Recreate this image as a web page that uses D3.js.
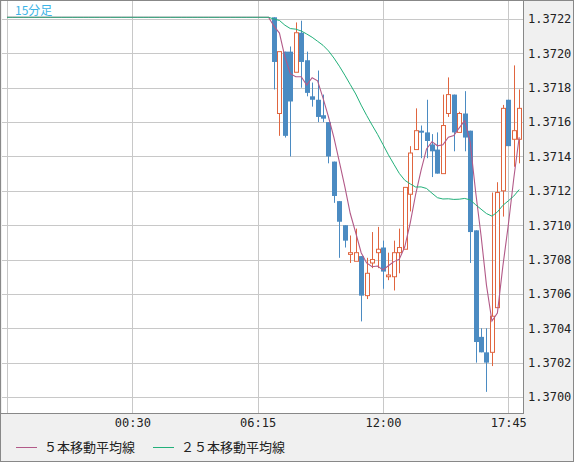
<!DOCTYPE html>
<html>
<head>
<meta charset="utf-8">
<script src="https://cdn.jsdelivr.net/npm/d3@7"></script>
<style>
  body { margin: 0; background: #f0f0f0; }
  svg { display: block; }
</style>
</head>
<body>
<div id="chart"></div>
<script>
// 15 minute bars; index 0 = 18:45 of previous day, candles start at index 49
var firstIndex = 49;
var flatLevel = 1.37221;   // level before the first candle (MA lines flat)

var opens  = [1.37221,1.37165,1.37201,1.37201,1.37189,1.37212,1.37196,1.37175,1.37173,1.37164,
              1.37160,1.37137,1.37114,1.37100,1.37083,1.37079,1.37082,1.37059,1.37078,1.37084,
              1.37087,1.37070,1.37070,1.37084,1.37086,1.37118,1.37144,1.37155,1.37154,1.37147,
              1.37144,1.37130,1.37165,1.37176,1.37154,1.37165,1.37155,1.37097,1.37035,1.37026,
              1.37026,1.37052,1.37120,1.37173,1.37150,1.37150];
var highs  = [1.37221,1.37201,1.37201,1.37204,1.37218,1.37219,1.37201,1.37183,1.37190,1.37176,
              1.37160,1.37137,1.37114,1.37100,1.37094,1.37098,1.37082,1.37081,1.37096,1.37099,
              1.37091,1.37084,1.37091,1.37098,1.37122,1.37146,1.37168,1.37158,1.37173,1.37153,
              1.37154,1.37176,1.37186,1.37176,1.37166,1.37178,1.37155,1.37097,1.37040,1.37040,
              1.37119,1.37125,1.37170,1.37173,1.37193,1.37179];
var lows   = [1.37179,1.37152,1.37151,1.37140,1.37189,1.37180,1.37175,1.37169,1.37160,1.37160,
              1.37136,1.37113,1.37081,1.37087,1.37078,1.37079,1.37044,1.37057,1.37075,1.37075,
              1.37063,1.37068,1.37062,1.37072,1.37086,1.37108,1.37144,1.37139,1.37139,1.37128,
              1.37130,1.37130,1.37163,1.37143,1.37154,1.37143,1.37078,1.37020,1.37026,1.37003,
              1.37018,1.37052,1.37105,1.37146,1.37134,1.37136];
var closes = [1.37195,1.37201,1.37152,1.37172,1.37212,1.37195,1.37177,1.37173,1.37163,1.37162,
              1.37140,1.37117,1.37102,1.37091,1.37084,1.37084,1.37059,1.37072,1.37080,1.37086,
              1.37073,1.37071,1.37084,1.37087,1.37122,1.37142,1.37155,1.37154,1.37149,1.37143,
              1.37130,1.37158,1.37176,1.37154,1.37165,1.37151,1.37096,1.37032,1.37026,1.37020,
              1.37047,1.37119,1.37168,1.37146,1.37155,1.37168];

var yTicks = [1.3700,1.3702,1.3704,1.3706,1.3708,1.3710,1.3712,1.3714,1.3716,1.3718,1.3720,1.3722];
var xTickIndex = [0, 23, 46, 69, 92];
var xTickLabels = ["", "00:30", "06:15", "12:00", "17:45"];

var W = 574, H = 462;
var plot = {left: 2, right: 523, top: 1, bottom: 413};

var svg = d3.select("#chart").append("svg").attr("width", W).attr("height", H);

svg.append("rect").attr("width", W).attr("height", H).attr("fill", "#f0f0f0");
svg.append("rect")
  .attr("x", plot.left).attr("y", plot.top)
  .attr("width", plot.right - plot.left).attr("height", plot.bottom - plot.top)
  .attr("fill", "#fff");

var x = d3.scaleLinear().domain([0, 94.7]).range([7, 523]);
var y = d3.scaleLinear().domain([1.3700, 1.3722]).range([397, 19]);

// grid
svg.selectAll(".hg").data(yTicks).enter().append("line")
  .attr("x1", plot.left).attr("x2", plot.right)
  .attr("y1", function(d) { return Math.round(y(d)) + 0.5; })
  .attr("y2", function(d) { return Math.round(y(d)) + 0.5; })
  .attr("stroke", "#c8c8c8");
svg.selectAll(".vg").data(xTickIndex).enter().append("line")
  .attr("x1", function(d) { return Math.round(x(d)) + 0.5; })
  .attr("x2", function(d) { return Math.round(x(d)) + 0.5; })
  .attr("y1", plot.top).attr("y2", plot.bottom)
  .attr("stroke", "#c8c8c8");

// axes labels
var yAxis = d3.axisRight(y).tickValues(yTicks).tickSize(0).tickPadding(5)
  .tickFormat(d3.format(".4f"));
svg.append("g").attr("transform", "translate(" + plot.right + ",0)")
  .call(yAxis)
  .call(function(g) { g.select(".domain").remove(); })
  .selectAll("text")
    .attr("font-family", "DejaVu Sans Mono").attr("font-size", 12).attr("fill", "#222");

var xAxis = d3.axisBottom(x).tickValues(xTickIndex).tickSize(0).tickPadding(5)
  .tickFormat(function(d, i) { return xTickLabels[i]; });
svg.append("g").attr("transform", "translate(0," + plot.bottom + ")")
  .call(xAxis)
  .call(function(g) { g.select(".domain").remove(); })
  .selectAll("text")
    .attr("font-family", "DejaVu Sans Mono").attr("font-size", 12).attr("fill", "#222");

// moving averages
var fullCloses = [];
for (var i = 0; i < firstIndex; i++) fullCloses.push(flatLevel);
fullCloses = fullCloses.concat(closes);
function ma(n) {
  return fullCloses.map(function(c, i) {
    var s = fullCloses.slice(Math.max(0, i - n + 1), i + 1);
    return {i: i, v: d3.mean(s)};
  });
}
var line = d3.line().x(function(d) { return x(d.i); }).y(function(d) { return y(d.v); });

var candles = closes.map(function(c, k) {
  return {i: firstIndex + k, o: opens[k], h: highs[k], l: lows[k], c: c};
});

var g = svg.append("g");
var bw = 4;
candles.forEach(function(d) {
  var up = d.c >= d.o;
  var col = up ? "#e0653f" : "#4b8bc2";
  var cx = Math.round(x(d.i)) + 0.5;
  var yt = y(Math.max(d.o, d.c)), yb = y(Math.min(d.o, d.c));
  if (up) {
    if (y(d.h) < yt) g.append("line").attr("x1", cx).attr("x2", cx).attr("y1", y(d.h)).attr("y2", yt).attr("stroke", col);
    if (y(d.l) > yb) g.append("line").attr("x1", cx).attr("x2", cx).attr("y1", yb).attr("y2", y(d.l)).attr("stroke", col);
    g.append("rect").attr("x", cx - bw / 2).attr("y", yt)
      .attr("width", bw).attr("height", Math.max(1, yb - yt))
      .attr("fill", "#fff").attr("stroke", col);
  } else {
    g.append("line").attr("x1", cx).attr("x2", cx).attr("y1", y(d.h)).attr("y2", y(d.l)).attr("stroke", col);
    g.append("rect").attr("x", cx - bw / 2 - 0.5).attr("y", yt)
      .attr("width", bw + 1).attr("height", Math.max(2, yb - yt))
      .attr("fill", col);
  }
});

svg.append("path").datum(ma(5)).attr("d", line)
  .attr("fill", "none").attr("stroke", "#b25a88").attr("stroke-width", 1.1);
svg.append("path").datum(ma(25)).attr("d", line)
  .attr("fill", "none").attr("stroke", "#22b07a").attr("stroke-width", 1);

// borders
svg.append("line").attr("x1", 0).attr("x2", plot.right).attr("y1", 0.5).attr("y2", 0.5).attr("stroke", "#666");
svg.append("line").attr("x1", 0.5).attr("x2", 0.5).attr("y1", 0).attr("y2", H).attr("stroke", "#666");
svg.append("line").attr("x1", plot.right + 0.5).attr("x2", plot.right + 0.5).attr("y1", 0).attr("y2", plot.bottom).attr("stroke", "#888");
svg.append("line").attr("x1", 0).attr("x2", plot.right + 1).attr("y1", plot.bottom + 0.5).attr("y2", plot.bottom + 0.5).attr("stroke", "#888");
svg.append("rect").attr("x", 0.5).attr("y", 0.5).attr("width", W - 1).attr("height", H - 1)
  .attr("fill", "none").attr("stroke", "#888");

svg.append("text").attr("x", 15).attr("y", 15).text("15分足")
  .attr("font-family", "Noto Sans CJK JP").attr("font-size", 12).attr("fill", "#3cb4e6");

// legend
var legend = [{t: "５本移動平均線", c: "#b25a88", x: 16}, {t: "２５本移動平均線", c: "#22b07a", x: 153}];
legend.forEach(function(d) {
  svg.append("line").attr("x1", d.x).attr("x2", d.x + 21).attr("y1", 447.5).attr("y2", 447.5).attr("stroke", d.c);
  svg.append("text").attr("x", d.x + 28).attr("y", 452).text(d.t)
    .attr("font-family", "Noto Sans CJK JP").attr("font-size", 13).attr("fill", "#222");
});
</script>
</body>
</html>
